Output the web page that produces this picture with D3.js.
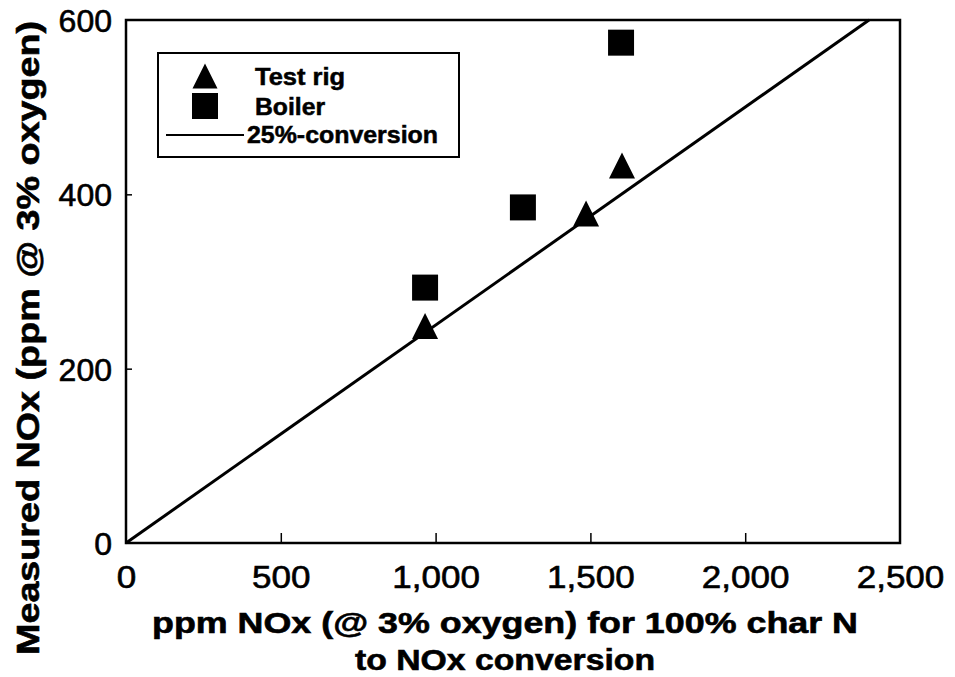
<!DOCTYPE html>
<html>
<head>
<meta charset="utf-8">
<script src="https://cdn.jsdelivr.net/npm/d3@7"></script>
<style>
  html, body { margin: 0; padding: 0; background: #fff; }
  svg { display: block; font-family: "Liberation Sans", Arial, sans-serif; }
</style>
</head>
<body>
<svg id="chart" width="955" height="677"></svg>
<script>
// ---- data ----
const testRigX = [966, 1486, 1602];
const testRigY = [249, 378, 433];
const boilerX = [966, 1282, 1599];
const boilerY = [293, 385, 574];
const conversionRate = 0.25;
const lineX = [0, 2400];
const xTicks = [0, 500, 1000, 1500, 2000, 2500];
const yTicks = [0, 200, 400, 600];
const legendLabels = ["Test rig", "Boiler", "25%-conversion"];
const xTitle = ["ppm NOx (@ 3% oxygen) for 100% char N", "to NOx conversion"];
const yTitle = "Measured NOx (ppm @ 3% oxygen)";

// ---- layout ----
const svg = d3.select("#chart");
const L = 126, R = 900, T = 20, B = 543;
const x = d3.scaleLinear().domain([0, 2500]).range([L, R]);
const y = d3.scaleLinear().domain([0, 600]).range([B, T]);

// x axis
const xAxis = svg.append("g").attr("transform", `translate(0,${B})`)
  .call(d3.axisBottom(x).tickValues(xTicks).tickFormat(d3.format(",")).tickSizeInner(-10).tickSizeOuter(0).tickPadding(23));
xAxis.select(".domain").remove();
xAxis.selectAll(".tick line").attr("stroke", "#000").attr("stroke-width", 1.5)
  .filter(d => d === 0 || d === 2500).remove();
xAxis.selectAll(".tick text").attr("font-size", 31).attr("fill", "#000")
  .attr("stroke", "#000").attr("stroke-width", 0.6)
  .attr("font-family", "Liberation Sans, Arial, sans-serif")
  .each(function() { const w = this.getComputedTextLength(); d3.select(this).attr("textLength", w * 1.13).attr("lengthAdjust", "spacingAndGlyphs"); });

// y axis
const yAxis = svg.append("g").attr("transform", `translate(${L},0)`)
  .call(d3.axisLeft(y).tickValues(yTicks).tickSizeInner(-6).tickSizeOuter(0).tickPadding(14));
yAxis.select(".domain").remove();
yAxis.selectAll(".tick line").attr("stroke", "#000").attr("stroke-width", 1.5)
  .filter(d => d === 0 || d === 600).remove();
yAxis.selectAll(".tick text").attr("font-size", 32).attr("fill", "#000")
  .attr("stroke", "#000").attr("stroke-width", 0.6)
  .attr("font-family", "Liberation Sans, Arial, sans-serif").attr("dy", "0.36em");

// frame
svg.append("rect").attr("x", L).attr("y", T).attr("width", R - L).attr("height", B - T)
  .attr("fill", "none").attr("stroke", "#000").attr("stroke-width", 2.5);

// 25% conversion line
svg.append("path")
  .datum(lineX.map(v => [v, v * conversionRate]))
  .attr("d", d3.line().x(d => x(d[0])).y(d => y(d[1])))
  .attr("stroke", "#000").attr("stroke-width", 3).attr("fill", "none");

// marker shapes (centered on bounding box)
const triType = { draw(ctx, size) { const h = Math.sqrt(size) / 2; ctx.moveTo(0, -h); ctx.lineTo(h, h); ctx.lineTo(-h, h); ctx.closePath(); } };
const sqType = { draw(ctx, size) { const h = Math.sqrt(size) / 2; ctx.rect(-h, -h, 2 * h, 2 * h); } };

svg.append("g").selectAll("path").data(boilerX.map((v, i) => [v, boilerY[i]])).join("path")
  .attr("transform", d => `translate(${x(d[0])},${y(d[1])})`)
  .attr("d", d3.symbol(sqType, 26 * 26)).attr("fill", "#000");
svg.append("g").selectAll("path").data(testRigX.map((v, i) => [v, testRigY[i]])).join("path")
  .attr("transform", d => `translate(${x(d[0])},${y(d[1])})`)
  .attr("d", d3.symbol(triType, 26 * 26)).attr("fill", "#000");

// legend
const lg = svg.append("g");
lg.append("rect").attr("x", 158).attr("y", 53).attr("width", 301).attr("height", 104)
  .attr("fill", "#fff").attr("stroke", "#000").attr("stroke-width", 2);
lg.append("path").attr("transform", "translate(205,76)").attr("d", d3.symbol(triType, 25 * 25)).attr("fill", "#000");
lg.append("path").attr("transform", "translate(205,106)").attr("d", d3.symbol(sqType, 26 * 26)).attr("fill", "#000");
lg.append("line").attr("x1", 166).attr("x2", 244).attr("y1", 135).attr("y2", 135).attr("stroke", "#000").attr("stroke-width", 2);
const legPos = [[255, 85, 90], [255, 115, 70], [247, 143, 191]];
legendLabels.forEach((t, i) => {
  lg.append("text").attr("x", legPos[i][0]).attr("y", legPos[i][1]).text(t)
    .attr("font-size", 23).attr("font-weight", "bold").attr("fill", "#000")
    .attr("stroke", "#000").attr("stroke-width", 0.5)
    .attr("textLength", legPos[i][2]).attr("lengthAdjust", "spacingAndGlyphs");
});

// axis titles
svg.append("text").attr("x", 505).attr("y", 633).attr("text-anchor", "middle").text(xTitle[0])
  .attr("font-size", 29).attr("font-weight", "bold").attr("fill", "#000")
  .attr("stroke", "#000").attr("stroke-width", 0.6)
  .attr("textLength", 706).attr("lengthAdjust", "spacingAndGlyphs");
svg.append("text").attr("x", 505).attr("y", 670).attr("text-anchor", "middle").text(xTitle[1])
  .attr("font-size", 29).attr("font-weight", "bold").attr("fill", "#000")
  .attr("stroke", "#000").attr("stroke-width", 0.6)
  .attr("textLength", 300).attr("lengthAdjust", "spacingAndGlyphs");
svg.append("text").attr("transform", "translate(39,338) rotate(-90)").attr("text-anchor", "middle").text(yTitle)
  .attr("font-size", 32).attr("font-weight", "bold").attr("fill", "#000")
  .attr("stroke", "#000").attr("stroke-width", 0.6)
  .attr("textLength", 634).attr("lengthAdjust", "spacingAndGlyphs");
</script>
</body>
</html>
